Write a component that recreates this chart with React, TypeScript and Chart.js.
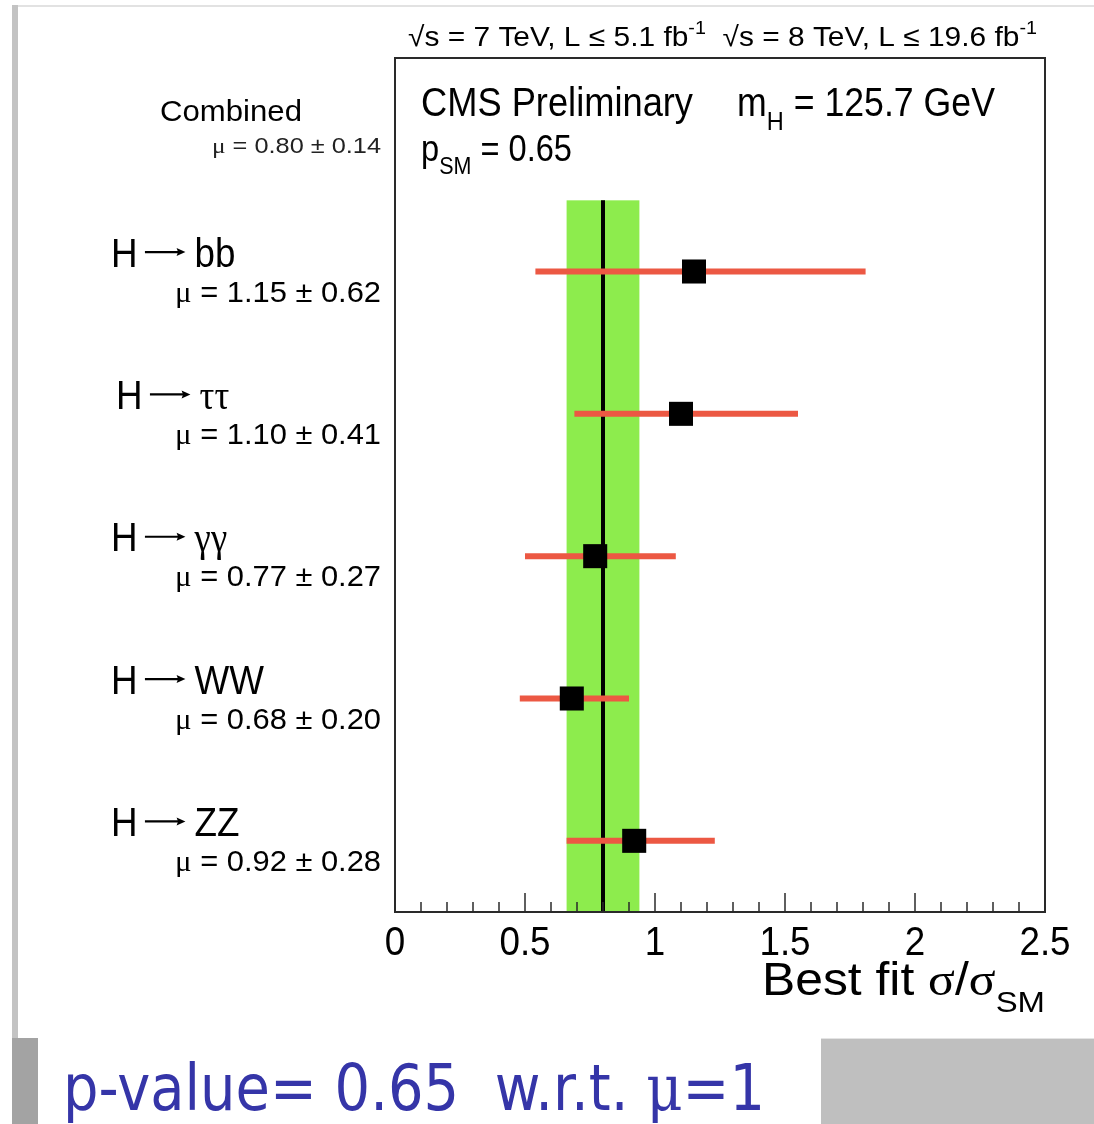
import React, { useEffect, useRef } from "react";
import { Chart, registerables } from "chart.js";

Chart.register(...registerables);

// ---------------- data ----------------
const decayNames = ["bb", "ττ", "γγ", "WW", "ZZ"];
const decayGreek = [false, true, true, false, false];
const muValues = [1.15, 1.1, 0.77, 0.68, 0.92];
const muErrors = [0.62, 0.41, 0.27, 0.2, 0.28];
const barLow = [0.54, 0.69, 0.5, 0.48, 0.66];
const barHigh = [1.81, 1.55, 1.08, 0.9, 1.23];
const categoryRows = [4.5, 3.5, 2.5, 1.5, 0.5];
const combinedMu = 0.8;
const combinedErr = 0.14;
const combinedRow = 5.5;
const bandTopRow = 5;
const xTickValues = [0, 0.5, 1, 1.5, 2, 2.5];
const xTickLabels = ["0", "0.5", "1", "1.5", "2", "2.5"];

// ---------------- text helpers ----------------
const SANS = '"Liberation Sans", Arial, Helvetica, sans-serif';
const SERIF = '"Liberation Serif", "DejaVu Serif", serif';

type Seg = { t?: string; f?: string; sub?: boolean; sup?: boolean; arrow?: boolean };

function drawRich(
  ctx: CanvasRenderingContext2D,
  segs: Seg[],
  x: number,
  y: number,
  size: number,
  align: "left" | "right" | "center",
  opts: { fit?: number; sx?: number; color?: string; family?: string } = {}
) {
  const fam = opts.family || SANS;
  const items = segs.map((s) => {
    if (s.arrow) {
      return { t: "", font: "", w: size * 1.55, dy: 0, arrow: true };
    }
    const fs = s.sub || s.sup ? size * 0.66 : size;
    const font = `${fs}px ${s.f || fam}`;
    ctx.font = font;
    const w = ctx.measureText(s.t || "").width;
    const dy = s.sub ? size * 0.36 : s.sup ? -size * 0.42 : 0;
    return { t: s.t || "", font, w, dy, arrow: false };
  });
  const total = items.reduce((a, b) => a + b.w, 0);
  const sx = opts.fit ? opts.fit / total : opts.sx ?? 1;
  const drawn = total * sx;
  let start = x;
  if (align === "right") start = x - drawn;
  else if (align === "center") start = x - drawn / 2;
  const color = opts.color || "#000";
  ctx.save();
  ctx.translate(start, y);
  ctx.scale(sx, 1);
  ctx.fillStyle = color;
  ctx.strokeStyle = color;
  ctx.textBaseline = "alphabetic";
  ctx.textAlign = "left";
  let cx = 0;
  for (const it of items) {
    if (it.arrow) {
      const ay = -size * 0.36;
      const x0 = cx + size * 0.2;
      const x1 = cx + size * 1.3;
      ctx.lineWidth = size * 0.055;
      ctx.beginPath();
      ctx.moveTo(x0, ay);
      ctx.lineTo(x1 - size * 0.15, ay);
      ctx.stroke();
      ctx.beginPath();
      ctx.moveTo(x1, ay);
      ctx.lineTo(x1 - size * 0.24, ay - size * 0.1);
      ctx.lineTo(x1 - size * 0.2, ay);
      ctx.lineTo(x1 - size * 0.24, ay + size * 0.1);
      ctx.closePath();
      ctx.fill();
    } else {
      ctx.font = it.font;
      ctx.fillText(it.t, cx, it.dy);
    }
    cx += it.w;
  }
  ctx.restore();
}

const decorPlugin = {
  id: "decor",
  beforeDatasetsDraw(chart: any) {
    const { ctx, scales } = chart;
    const x = scales.x;
    const y = scales.y;
    const x0 = x.getPixelForValue(combinedMu - combinedErr);
    const x1 = x.getPixelForValue(combinedMu + combinedErr);
    const yTop = y.getPixelForValue(bandTopRow);
    const yBot = y.getPixelForValue(0);
    ctx.save();
    ctx.fillStyle = "#8dec4d";
    ctx.fillRect(x0, yTop, x1 - x0, yBot - yTop);
    ctx.restore();
  },
  afterDatasetsDraw(chart: any) {
    const { ctx, chartArea, scales } = chart;
    const x = scales.x;
    const y = scales.y;
    const { left, top, right, bottom } = chartArea;

    // frame
    ctx.save();
    ctx.strokeStyle = "#2a2a2a";
    ctx.lineWidth = 2;
    ctx.strokeRect(left, top, right - left, bottom - top);

    // ticks (inward)
    ctx.lineWidth = 1.5;
    for (let i = 0; i <= 25; i++) {
      const v = i / 10;
      const px = x.getPixelForValue(v);
      const len = i % 5 === 0 ? 19 : 10;
      ctx.beginPath();
      ctx.moveTo(px, bottom);
      ctx.lineTo(px, bottom - len);
      ctx.stroke();
    }
    ctx.restore();

    // tick labels
    xTickValues.forEach((v, i) => {
      drawRich(ctx, [{ t: xTickLabels[i] }], x.getPixelForValue(v), bottom + 43, 40, "center", { sx: 0.92 });
    });

    // axis title
    drawRich(
      ctx,
      [{ t: "Best fit " }, { t: "σ", f: SERIF }, { t: "/" }, { t: "σ", f: SERIF }, { t: "SM", sub: true }],
      right,
      bottom + 83,
      46,
      "right",
      { fit: 283 }
    );

    // header
    drawRich(
      ctx,
      [
        { t: "√s = 7 TeV, L ≤ 5.1 fb" },
        { t: "-1", sup: true },
        { t: "  √s = 8 TeV, L ≤ 19.6 fb" },
        { t: "-1", sup: true },
      ],
      left + 13,
      top - 12,
      28,
      "left",
      { fit: 629 }
    );

    // inside texts
    drawRich(ctx, [{ t: "CMS Preliminary" }], left + 26, top + 58, 40, "left", { fit: 272 });
    drawRich(
      ctx,
      [{ t: "m" }, { t: "H", sub: true }, { t: " = 125.7 GeV" }],
      left + 342,
      top + 58,
      40,
      "left",
      { fit: 258 }
    );
    drawRich(
      ctx,
      [{ t: "p" }, { t: "SM", sub: true }, { t: " = 0.65" }],
      left + 26,
      top + 103,
      37,
      "left",
      { fit: 151 }
    );

    // combined label
    const cy = y.getPixelForValue(combinedRow);
    drawRich(ctx, [{ t: "Combined" }], 302, cy - 8, 30, "right", { fit: 142 });
    drawRich(
      ctx,
      [
        { t: "μ", f: SERIF },
        { t: ` = ${combinedMu.toFixed(2)} ± ${combinedErr.toFixed(2)}` },
      ],
      381,
      cy + 24,
      22,
      "right",
      { fit: 169, color: "#222" }
    );

    // category labels
    decayNames.forEach((name, i) => {
      const py = y.getPixelForValue(categoryRows[i]);
      drawRich(
        ctx,
        [{ t: "H" }, { arrow: true }, { t: name, f: decayGreek[i] ? SERIF : SANS }],
        i === 1 ? 116 : 111,
        py - 5,
        40,
        "left",
        { sx: 0.92 }
      );
      drawRich(
        ctx,
        [
          { t: "μ", f: SERIF },
          { t: ` = ${muValues[i].toFixed(2)} ± ${muErrors[i].toFixed(2)}` },
        ],
        381,
        py + 30,
        30,
        "right",
        { fit: 206 }
      );
    });

    // p-value footer
    drawRich(
      ctx,
      [{ t: "p-value= 0.65  w.r.t. " }, { t: "μ", f: '"DejaVu Serif", serif' }, { t: "=1" }],
      63,
      1110,
      64,
      "left",
      { fit: 702, color: "#3535a8", family: '"DejaVu Sans", Verdana, sans-serif' }
    );
  },
};

export default function App() {
  const ref = useRef<HTMLCanvasElement | null>(null);

  useEffect(() => {
    if (!ref.current) return;
    const errorSets = decayNames.map((n, i) => ({
      type: "line" as const,
      label: "err " + n,
      data: [
        { x: barLow[i], y: categoryRows[i] },
        { x: barHigh[i], y: categoryRows[i] },
      ],
      borderColor: "#ec5843",
      borderWidth: 6,
      borderCapStyle: "butt" as const,
      pointRadius: 0,
      showLine: true,
      order: 1,
    }));
    const chart = new Chart(ref.current, {
      type: "scatter",
      data: {
        datasets: [
          {
            type: "scatter",
            label: "best fit",
            data: muValues.map((v, i) => ({ x: v, y: categoryRows[i] })),
            pointStyle: "rect",
            pointRadius: 17,
            pointBorderWidth: 0,
            backgroundColor: "#000",
            borderColor: "#000",
            order: 0,
          } as any,
          ...errorSets,
          {
            type: "line",
            label: "combined",
            data: [
              { x: combinedMu, y: 0 },
              { x: combinedMu, y: bandTopRow },
            ],
            borderColor: "#000",
            borderWidth: 4,
            pointRadius: 0,
            showLine: true,
            order: 2,
          },
        ],
      },
      options: {
        responsive: false,
        animation: false,
        devicePixelRatio: 1,
        events: [],
        layout: { padding: { left: 395, right: 49, top: 58, bottom: 212 } },
        plugins: { legend: { display: false }, tooltip: { enabled: false } },
        scales: {
          x: { type: "linear", min: 0, max: 2.5, display: false },
          y: { type: "linear", min: 0, max: 6, display: false },
        },
      },
      plugins: [decorPlugin],
    });
    return () => chart.destroy();
  }, []);

  return (
    <div style={{ position: "absolute", left: 0, top: 0, width: 1094, height: 1124, background: "#fff", overflow: "hidden" }}>
      <div style={{ position: "absolute", left: 12, top: 5, width: 1082, height: 2, background: "#e2e2e2" }} />
      <div style={{ position: "absolute", left: 12, top: 5, width: 6, height: 1033, background: "#c3c3c3" }} />
      <div style={{ position: "absolute", left: 12, top: 1038, width: 26, height: 86, background: "#a3a3a3" }} />
      <div style={{ position: "absolute", left: 821, top: 1038, width: 273, height: 86, background: "#bfbfbf", borderTop: "1px solid #e4e4e4" }} />
      <canvas ref={ref} width={1094} height={1124} style={{ position: "absolute", left: 0, top: 0 }} />
    </div>
  );
}
